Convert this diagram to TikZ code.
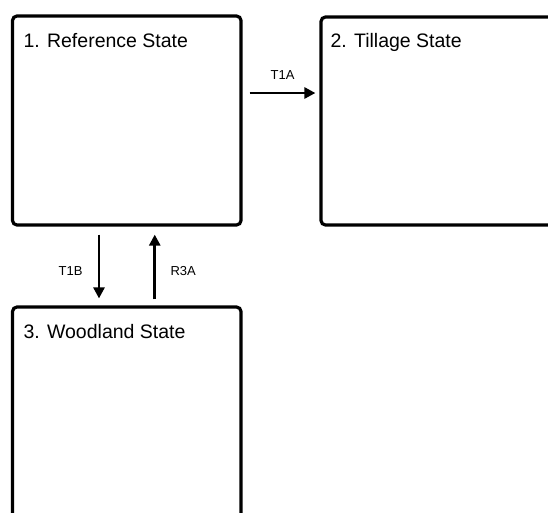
\documentclass[tikz,border=0pt]{standalone}
\usepackage{fontspec}
\setmainfont{Liberation Sans}
\usetikzlibrary{arrows.meta}
\begin{document}
\begin{tikzpicture}[x=1pt,y=-1pt,
  statebox/.style={draw=black,line width=3.2pt,rounded corners=4.5pt,rectangle,inner sep=0pt},
  boxtitle/.style={anchor=base west,font=\fontsize{19.5}{22}\selectfont,inner sep=0pt},
  arr/.style={line width=2.6pt,-{Triangle[length=11pt,width=11pt]}},
  arrlabel/.style={font=\fontsize{13}{15}\selectfont,inner sep=0pt}]
\useasboundingbox (0,0) rectangle (548,512);
\clip (0,0) rectangle (548,512);
\node[statebox,minimum width=228.5pt,minimum height=209pt] (b1) at (126.75,120.5) {};
\node[statebox,minimum width=232pt,minimum height=208pt] (b2) at (437,121) {};
\node[statebox,minimum width=228.5pt,minimum height=212pt] (b3) at (126.75,413) {};
\node[boxtitle] (t1) at ([xshift=12.5pt,yshift=-33pt]b1.north west) {1. Reference State};
\node[boxtitle] (t2) at ([xshift=11pt,yshift=-32pt]b2.north west) {2. Tillage State};
\node[boxtitle] (t3) at ([xshift=12.5pt,yshift=-33pt]b3.north west) {3. Woodland State};
\draw[arr] ([xshift=7pt,yshift=27.5pt]b1.east) -- ([xshift=-4pt,yshift=28pt]b2.west)
  node[arrlabel,midway,yshift=18pt] (l1) {T1A};
\draw[arr] ([xshift=-27.75pt,yshift=-8pt]b1.south) -- ([xshift=-27.75pt,yshift=7pt]b3.north)
  node[arrlabel,midway,xshift=-28.5pt,yshift=-4.5pt] (l2) {T1B};
\draw[arr] ([xshift=28pt,yshift=6pt]b3.north) -- ([xshift=28pt,yshift=-8pt]b1.south)
  node[arrlabel,midway,xshift=28.5pt,yshift=-4pt] (l3) {R3A};
\end{tikzpicture}
\end{document}
